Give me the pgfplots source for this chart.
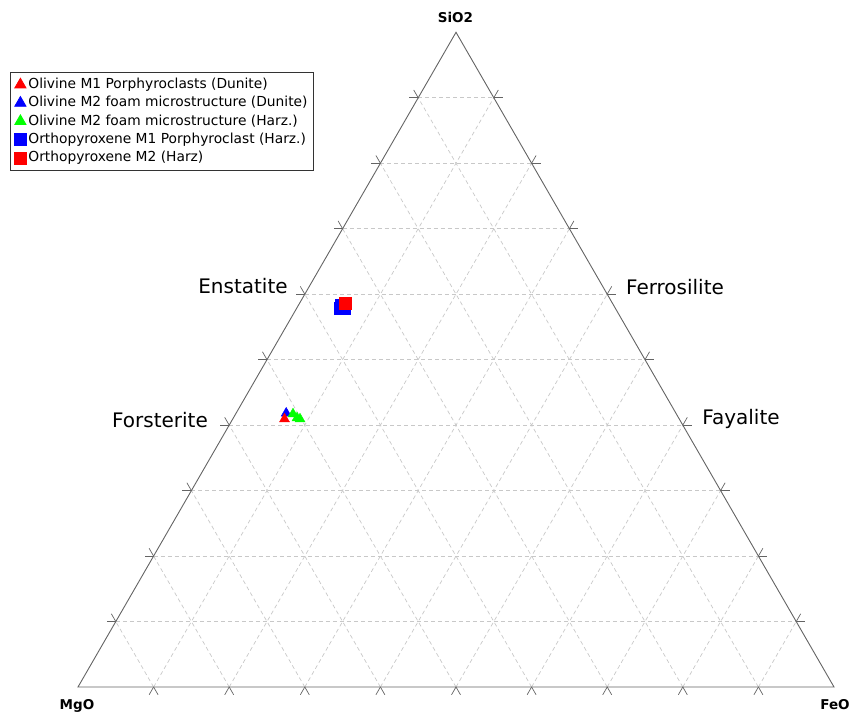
\documentclass[border=0pt]{standalone}
\usepackage{fontspec}
\setmainfont{DejaVu Sans}
\usepackage{pgfplots}
\pgfplotsset{compat=1.18}
\usepackage{pgfplotstable}

% ternary data in wt% (MgO, FeO, SiO2)
\pgfplotstableread{
mgo feo sio2
52.22 6.85 40.93
}\olAred
\pgfplotstableread{
mgo feo sio2
51.55 6.63 41.82
}\olBblue
\pgfplotstableread{
mgo feo sio2
50.71 7.59 41.70
50.48 8.43 41.09
50.17 8.90 40.93
}\olHgreen
\pgfplotstableread{
mgo feo sio2
36.39 5.72 57.89
36.04 5.61 58.35
35.86 6.25 57.89
}\opxAblue
\pgfplotstableread{
mgo feo sio2
35.36 5.99 58.65
}\opxBred

\newcommand{\tx}{78+7.56*(\thisrow{feo}+0.5*\thisrow{sio2})}
\newcommand{\ty}{26+6.547*\thisrow{sio2}}

\definecolor{edgegray}{RGB}{100,100,100}
\definecolor{gridgray}{RGB}{200,200,200}

\begin{document}
\begin{tikzpicture}
\begin{axis}[
  width=853pt, height=713pt, scale only axis,
  xmin=0, xmax=853, ymin=0, ymax=713,
  axis lines=none, clip=false,
  legend style={at={(axis cs:10,641)}, anchor=north west, draw=black!80, line width=0.8pt,
    font=\fontsize{13.8}{16}\selectfont, inner xsep=4pt, inner ysep=3.2pt,
    nodes={inner xsep=2pt, inner ysep=2.4pt, text height=10.5pt, text depth=3pt},
    row sep=0pt},
  legend cell align=left,
  legend image code/.code={\draw[mark repeat=2,mark phase=2,#1] plot coordinates {(0pt,0pt) (6pt,0pt) (12pt,0pt)};},
]
% grid
\pgfplotsinvokeforeach{1,...,9}{
  \draw[gridgray, dashed, dash pattern=on 4pt off 3pt, line width=0.7pt]
    ({78+37.8*#1},{26+65.47*#1}) -- ({834-37.8*#1},{26+65.47*#1});
  \draw[gridgray, dashed, dash pattern=on 4pt off 3pt, line width=0.7pt]
    ({78+75.6*#1},26) -- ({456+37.8*#1},{26+65.47*(10-#1)});
  \draw[gridgray, dashed, dash pattern=on 4pt off 3pt, line width=0.7pt]
    ({834-75.6*#1},26) -- ({456-37.8*#1},{26+65.47*(10-#1)});
  % ticks
  \draw[edgegray, line width=0.7pt] ({78+75.6*#1},26) -- ++(-4.5,-7.8);
  \draw[edgegray, line width=0.7pt] ({78+75.6*#1},26) -- ++(4.5,-7.8);
  \draw[edgegray, line width=0.7pt] ({78+37.8*#1},{26+65.47*#1}) -- ++(-9,0);
  \draw[edgegray, line width=0.7pt] ({78+37.8*#1},{26+65.47*#1}) -- ++(-4.5,7.8);
  \draw[edgegray, line width=0.7pt] ({834-37.8*#1},{26+65.47*#1}) -- ++(9,0);
  \draw[edgegray, line width=0.7pt] ({834-37.8*#1},{26+65.47*#1}) -- ++(4.5,7.8);
}
% triangle
\draw[edgegray, line width=0.9pt] (78,26) -- (834,26) -- (456,680.7) -- cycle;

% legend entries
\addlegendimage{only marks, mark=triangle*, mark size=6.5pt, color=red}
\addlegendentry{Olivine M1 Porphyroclasts (Dunite)}
\addlegendimage{only marks, mark=triangle*, mark size=6.5pt, color=blue}
\addlegendentry{Olivine M2 foam microstructure (Dunite)}
\addlegendimage{only marks, mark=triangle*, mark size=6.5pt, color=green}
\addlegendentry{Olivine M2 foam microstructure (Harz.)}
\addlegendimage{only marks, mark=square*, mark size=6pt, color=blue}
\addlegendentry{Orthopyroxene M1 Porphyroclast (Harz.)}
\addlegendimage{only marks, mark=square*, mark size=6pt, color=red}
\addlegendentry{Orthopyroxene M2 (Harz)}

% data
\addplot[forget plot, only marks, mark=triangle*, mark size=5.8pt, color=blue] table[x expr=\tx, y expr=\ty] {\olBblue};
\addplot[forget plot, only marks, mark=triangle*, mark size=5.8pt, color=red] table[x expr=\tx, y expr=\ty] {\olAred};
\addplot[forget plot, only marks, mark=triangle*, mark size=5.8pt, color=green] table[x expr=\tx, y expr=\ty] {\olHgreen};
\addplot[forget plot, only marks, mark=square*, mark size=6pt, color=blue] table[x expr=\tx, y expr=\ty] {\opxAblue};
\addplot[forget plot, only marks, mark=square*, mark size=6pt, color=red] table[x expr=\tx, y expr=\ty] {\opxBred};

% labels
\node[anchor=base, font=\bfseries\fontsize{13.5}{16}\selectfont] at (455.5,690) {SiO2};
\node[anchor=base, font=\bfseries\fontsize{13.5}{16}\selectfont] at (77,4) {MgO};
\node[anchor=base, font=\bfseries\fontsize{13.5}{16}\selectfont] at (835,4) {FeO};
\node[anchor=base, font=\fontsize{20}{24}\selectfont] at (243,419) {Enstatite};
\node[anchor=base, font=\fontsize{20}{24}\selectfont] at (675,418) {Ferrosilite};
\node[anchor=base, font=\fontsize{20}{24}\selectfont] at (160,286) {Forsterite};
\node[anchor=base, font=\fontsize{20}{24}\selectfont] at (741,289) {Fayalite};
\end{axis}
\pgfresetboundingbox
\path[use as bounding box] (0,0) rectangle (853pt,713pt);
\end{tikzpicture}
\end{document}
